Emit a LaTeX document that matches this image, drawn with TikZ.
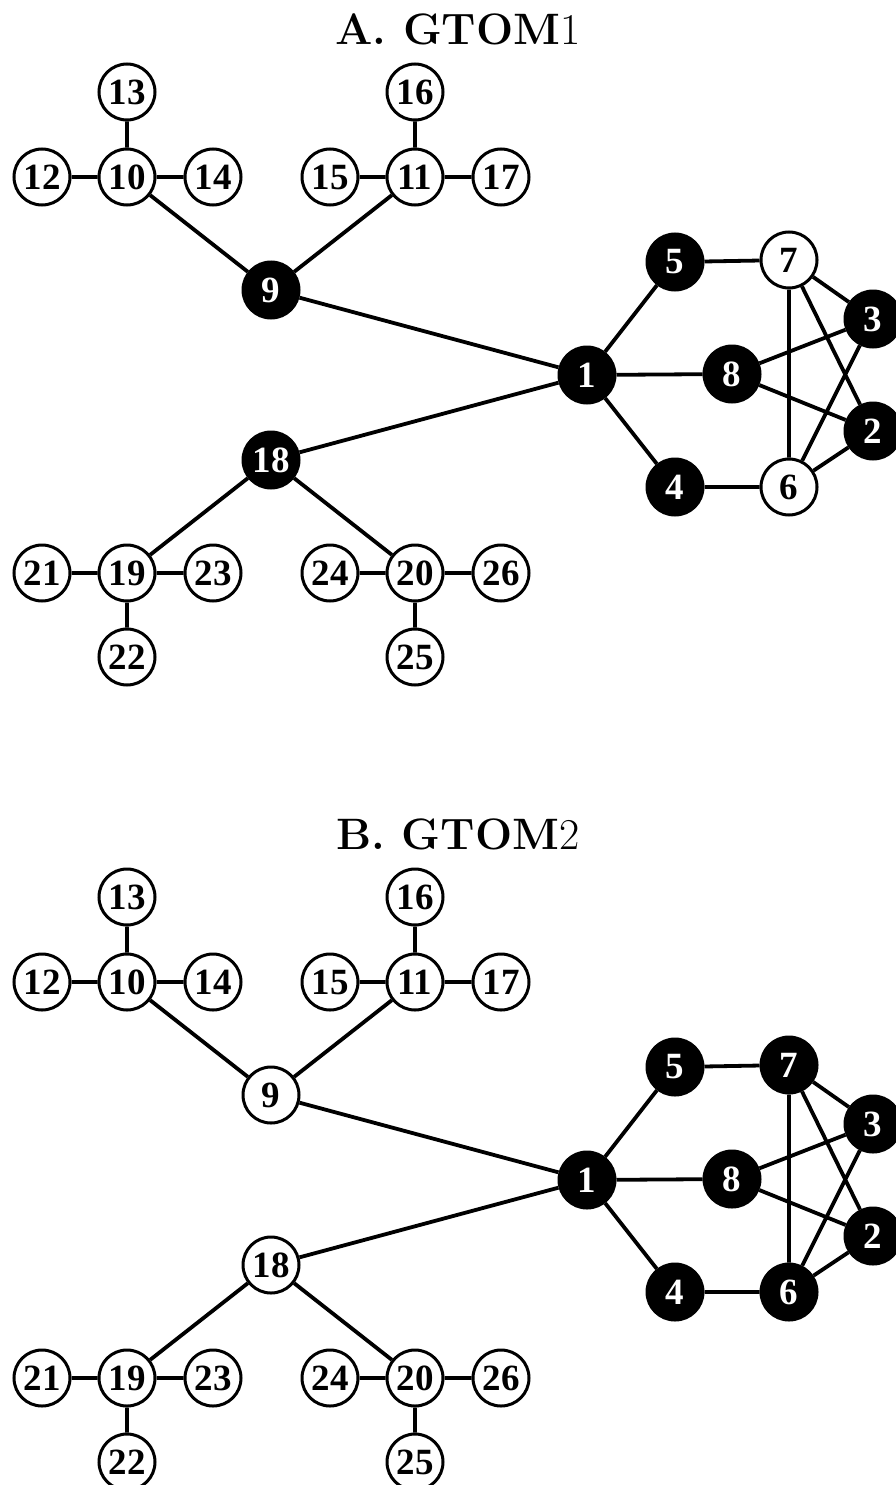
\documentclass[tikz,border=0pt]{standalone}
\usepackage{fontspec}
\newfontfamily\nodefont{Liberation Serif}
\begin{document}
\begin{tikzpicture}[x=1pt,y=-1pt,
  vtx/.style={circle,draw=black,line width=3pt,minimum size=56pt,inner sep=0pt,fill=white,
    font=\nodefont\fontsize{37}{39}\selectfont\bfseries},
  blk/.style={vtx,fill=black,text=white},
  edge/.style={line width=3.8pt},
  ttl/.style={font=\fontsize{44}{48}\selectfont\bfseries}]
\useasboundingbox (0,0) rectangle (895,1485);
\foreach \dy/\lab/\num/\nine/\six in {0/A/1/blk/vtx, 805/B/2/vtx/blk}{
  \begin{scope}[yshift=-\dy pt]
  \node[ttl] (title\lab) at (458,29) {\lab. GTOM\mdseries\num};
  \node[vtx] (n13) at (127,92) {13};
  \node[vtx] (n10) at (127,177) {10};
  \node[vtx] (n12) at (42,177) {12};
  \node[vtx] (n14) at (213,177) {14};
  \node[vtx] (n16) at (415,92) {16};
  \node[vtx] (n11) at (415,177) {11};
  \node[vtx] (n15) at (330,177) {15};
  \node[vtx] (n17) at (501,177) {17};
  \node[\nine] (n9) at (271,290) {9};
  \node[blk] (n1) at (587,375) {1};
  \node[blk] (n5) at (675,262) {5};
  \node[\six] (n7) at (789,260) {7};
  \node[blk] (n3) at (873,319) {3};
  \node[blk] (n8) at (732,374) {8};
  \node[blk] (n2) at (873,431) {2};
  \node[blk] (n4) at (675,487) {4};
  \node[\six] (n6) at (789,487) {6};
  \node[\nine] (n18) at (271,460) {18};
  \node[vtx] (n19) at (127,573) {19};
  \node[vtx] (n21) at (42,573) {21};
  \node[vtx] (n23) at (213,573) {23};
  \node[vtx] (n22) at (127,657) {22};
  \node[vtx] (n20) at (415,573) {20};
  \node[vtx] (n24) at (330,573) {24};
  \node[vtx] (n26) at (501,573) {26};
  \node[vtx] (n25) at (415,657) {25};
  \draw[edge] (n10)--(n13) (n10)--(n12) (n10)--(n14) (n10)--(n9)
    (n11)--(n16) (n11)--(n15) (n11)--(n17) (n11)--(n9)
    (n9)--(n1) (n1)--(n18) (n18)--(n19) (n18)--(n20)
    (n19)--(n21) (n19)--(n23) (n19)--(n22)
    (n20)--(n24) (n20)--(n26) (n20)--(n25)
    (n1)--(n5) (n1)--(n8) (n1)--(n4) (n5)--(n7) (n4)--(n6)
    (n7)--(n3) (n7)--(n2) (n7)--(n6) (n8)--(n3) (n8)--(n2) (n6)--(n3) (n6)--(n2);
  \end{scope}
}
\end{tikzpicture}
\end{document}
